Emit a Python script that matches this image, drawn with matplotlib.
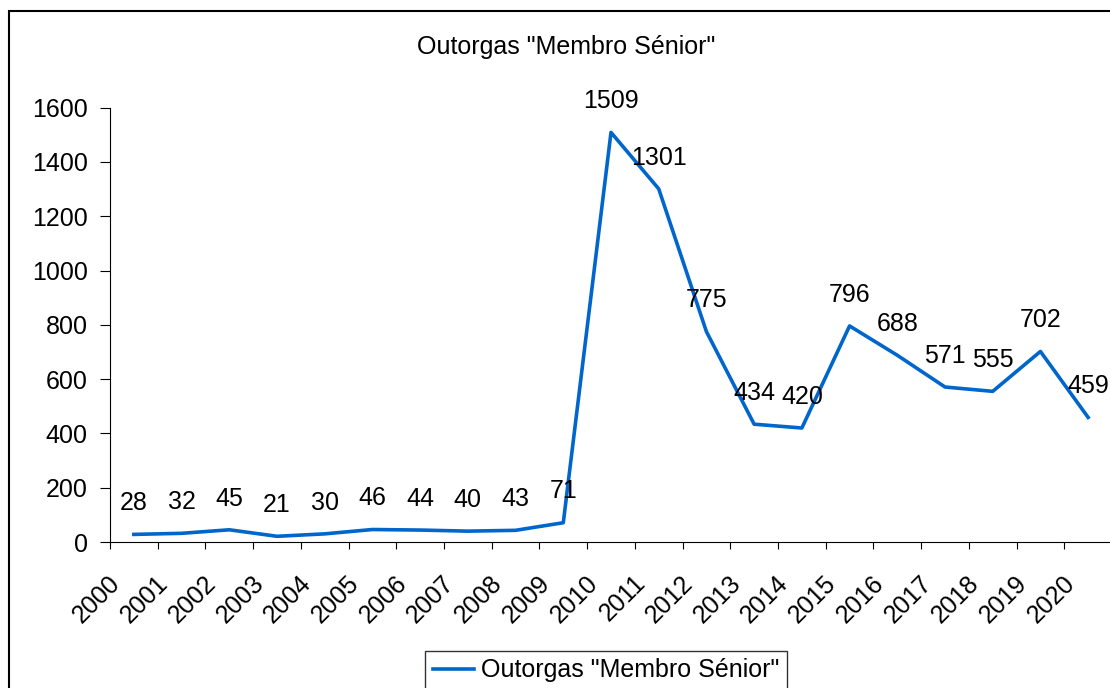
import matplotlib.pyplot as plt
import numpy as np
from matplotlib.patches import Rectangle

plt.rcParams['font.family'] = ['Liberation Sans', 'DejaVu Sans']

years = ['2000', '2001', '2002', '2003', '2004', '2005', '2006', '2007', '2008', '2009', '2010',
         '2011', '2012', '2013', '2014', '2015', '2016', '2017', '2018', '2019', '2020']
outorgas = [28, 32, 45, 21, 30, 46, 44, 40, 43, 71, 1509,
            1301, 775, 434, 420, 796, 688, 571, 555, 702, 459]
serie = 'Outorgas "Membro Sénior"'

W, H = 1110, 688
fs = 18
fig = plt.figure(figsize=(W / 100, H / 100), dpi=100)

# chart border (runs off the right and bottom edges like the original)
fig.patches.append(Rectangle((9 / W, -0.2), 1.2, 1.2 - 11 / H, transform=fig.transFigure,
                             fill=False, edgecolor='black', linewidth=1.5, clip_on=False))

left, right, bottom, top = 110, 1112, 542, 107.7
ax = fig.add_axes([left / W, 1 - bottom / H, (right - left) / W, (bottom - top) / H])

x = np.arange(len(years))
ax.plot(x, outorgas, color='#0066CC', linewidth=2.6, label=serie)
for xi, v in zip(x, outorgas):
    ax.annotate(str(v), (xi, v), xytext=(0, 22.5), textcoords='offset points',
                ha='center', va='center', fontsize=fs)

ax.set_xlim(-0.5, len(years) - 0.5)
ax.set_ylim(0, 1600)
ax.set_yticks(np.arange(0, 1601, 200))
ax.tick_params(axis='y', length=7, width=0.8, pad=9, labelsize=fs)

ax.set_xticks(x - 0.36)
ax.set_xticklabels(years, rotation=45, ha='right', va='center', rotation_mode='anchor', fontsize=fs)
ax.tick_params(axis='x', which='major', length=0, pad=27)
ax.set_xticks(np.arange(len(years)) - 0.5, minor=True)
ax.tick_params(axis='x', which='minor', length=5, width=0.8)

for s in ['top', 'right']:
    ax.spines[s].set_visible(False)
for s in ['left', 'bottom']:
    ax.spines[s].set_linewidth(0.8)

fig.text(566 / W, 1 - 47 / H, serie, ha='center', va='center', fontsize=fs)

leg = fig.legend(loc='upper left', bbox_to_anchor=(425 / W, 1 - 651 / H), borderaxespad=0,
                 fancybox=False, edgecolor='black', fontsize=fs, handlelength=1.65,
                 handletextpad=0.3, borderpad=0.3)
leg.get_frame().set_linewidth(1.0)

fig.savefig('out.png', dpi=100)
